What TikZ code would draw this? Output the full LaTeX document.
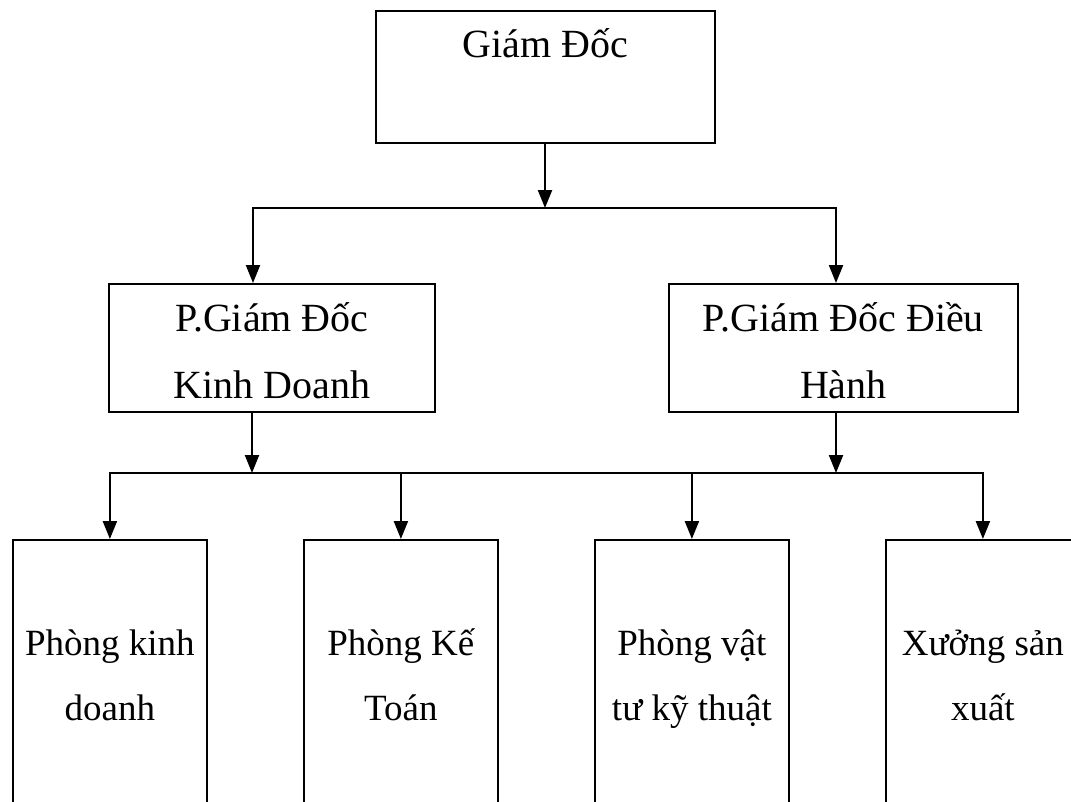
\documentclass[tikz,border=0pt]{standalone}
\usepackage{fontspec}
\setmainfont{Liberation Serif}
\usetikzlibrary{arrows.meta,positioning,calc}

\begin{document}
\begin{tikzpicture}[x=1pt, y=-1pt,
  box/.style={draw, line width=1.8pt, inner sep=0pt, anchor=north west},
  txt/.style={font=\fontsize{40}{67}\selectfont, align=center, anchor=base, inner sep=0pt},
  small txt/.style={txt, font=\fontsize{37}{65}\selectfont},
  link/.style={line width=2.2pt, line cap=rect},
  arr/.style={line width=2.2pt, -{Triangle[length=18pt,width=14pt]}}]
\useasboundingbox (0,0) rectangle (1071,801);
\clip (0,0) rectangle (1071,801);

% boxes
\node[box, minimum width=339pt, minimum height=132pt] (gd) at (375,10) {};
\node[box, minimum width=326pt, minimum height=128pt] (pgdkd) at (108,283) {};
\node[box, minimum width=349pt, minimum height=128pt] (pgddh) at (668,283) {};
\node[box, minimum width=194pt, minimum height=300pt] (pkd) at (12,539) {};
\node[box, minimum width=194pt, minimum height=300pt] (pkt) at (303,539) {};
\node[box, minimum width=194pt, minimum height=300pt] (pvt) at (594,539) {};
\node[box, minimum width=194pt, minimum height=300pt] (xsx) at (885,539) {};

% texts (base = last line)
\node[txt] (gd-t) at ([yshift=-47pt]gd.north) {Giám Đốc};
\node[txt] (pgdkd-t) at ([yshift=-115pt]pgdkd.north) {P.Giám Đốc\\Kinh Doanh};
\node[txt] (pgddh-t) at ([yshift=-115pt]pgddh.north) {P.Giám Đốc Điều\\Hành};
\node[small txt] (pkd-t) at ([yshift=-181pt]pkd.north) {Phòng kinh\\doanh};
\node[small txt] (pkt-t) at ([yshift=-181pt]pkt.north) {Phòng Kế\\Toán};
\node[small txt] (pvt-t) at ([yshift=-181pt]pvt.north) {Phòng vật\\tư kỹ thuật};
\node[small txt] (xsx-t) at ([yshift=-181pt]xsx.north) {Xưởng sản\\xuất};

% first level
\coordinate (j1) at (545,208);
\coordinate (j1l) at (253,208);
\coordinate (j1r) at (836,208);
\draw[arr] (gd.south -| j1) -- (j1);
\draw[link] (j1l) -- (j1r);
\draw[arr] (j1l) -- (j1l |- pgdkd.north);
\draw[arr] (j1r) -- (j1r |- pgddh.north);

% second level
\coordinate (j2l) at (252,473);
\coordinate (j2r) at (836,473);
\draw[arr] (pgdkd.south -| j2l) -- (j2l);
\draw[arr] (pgddh.south -| j2r) -- (j2r);
\draw[link] (pkd.north |- j2l) -- (xsx.north |- j2l);
\foreach \n in {pkd,pkt,pvt,xsx}
  \draw[arr] (\n.north |- j2l) -- (\n.north);
\end{tikzpicture}
\end{document}
